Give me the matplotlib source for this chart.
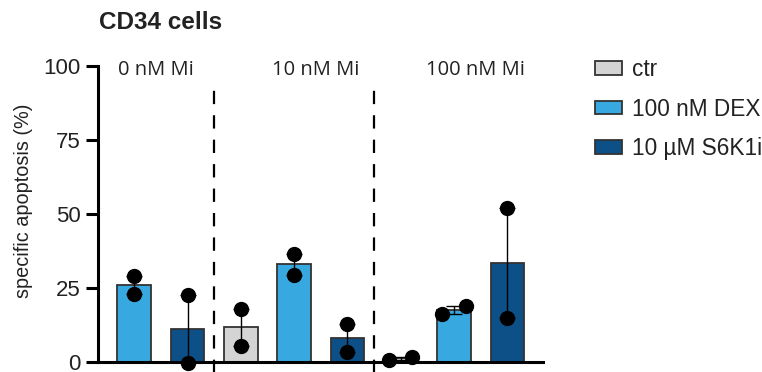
import numpy as np
import matplotlib
matplotlib.use("Agg")
import matplotlib.pyplot as plt
from matplotlib.patches import Patch

plt.rcParams['font.family'] = ['Liberation Sans', 'DejaVu Sans']

# data (two replicates per condition)
groups = ["0 nM Mi", "10 nM Mi", "100 nM Mi"]
treatments = ["ctr", "100 nM DEX", "10 µM S6K1i"]
colors = ["#d4d4d4", "#38a9e0", "#0d5088"]
rep1 = [np.nan, 29.0, 22.5, 18.0, 36.5, 13.0, 0.7, 16.2, 52.0]
rep2 = [np.nan, 23.0, -0.5, 5.5, 29.5, 3.3, 1.8, 19.0, 14.7]
jitter1 = [0, 0, 0, 0, 0, 0, -0.22, -0.22, 0]
jitter2 = [0, 0, 0, 0, 0, 0, 0.22, 0.22, 0]

rep1 = np.array(rep1)
rep2 = np.array(rep2)
means = (rep1 + rep2) / 2
x = np.arange(len(means))

fig = plt.figure(figsize=(7.62, 3.72), dpi=100)
ax = fig.add_axes([0.1286, 0.0269, 0.584, 0.7957])

bar_colors = [colors[i % 3] for i in range(len(x))]
for xi, m, c in zip(x, means, bar_colors):
    if np.isnan(m):
        continue
    ax.bar(xi, m, width=0.63, color=c, edgecolor="#333333", linewidth=1.3, zorder=2)
    lo = min(rep1[xi], rep2[xi])
    hi = max(rep1[xi], rep2[xi])
    ax.vlines(xi, lo, hi, color="black", linewidth=1.0, zorder=3, clip_on=False)
    ax.hlines([lo, hi], xi - 0.15, xi + 0.15, color="black", linewidth=1.0, zorder=3, clip_on=False)
    ax.plot([xi + jitter1[xi], xi + jitter2[xi]], [rep1[xi], rep2[xi]], "o",
            color="black", markersize=10, zorder=4, clip_on=False, linestyle="none")

# group separators
for sep in [2.5, 5.5]:
    ax.plot([sep, sep], [-4, 93.5], color="black", linewidth=1.6,
            dashes=(6, 5), clip_on=False, zorder=1)

for i, g in enumerate(groups):
    ax.text(3 * i + 1.4, 98.6, g, ha="center", va="center", fontsize=14.5,
            family=["Open Sans", "DejaVu Sans"], color="#222222")

ax.set_xlim(0.32, 8.67)
ax.set_ylim(0, 100)
ax.set_yticks([0, 25, 50, 75, 100])
ax.set_xticks([])
ax.tick_params(axis="y", length=8.5, width=2.2, labelsize=16, pad=4, colors="black",
               labelcolor="#222222")
for s in ["top", "right"]:
    ax.spines[s].set_visible(False)
ax.spines["left"].set_linewidth(2.2)
ax.spines["bottom"].set_linewidth(2.2)
ax.set_ylabel("specific apoptosis (%)", fontsize=14.3, color="#222222")
ax.yaxis.set_label_coords(-0.146, 0.544)

fig.text(0.2107, 0.94, "CD34 cells", ha="center", va="center",
         fontsize=17.5, fontweight="bold", color="#222222")

handles = [Patch(facecolor=c, edgecolor="#333333", linewidth=1.3) for c in colors]
leg = fig.legend(handles, treatments, loc="upper left", bbox_to_anchor=(0.781, 0.844),
                 frameon=False, fontsize=16.3, handlelength=1.2, handleheight=0.55,
                 labelspacing=0.73, handletextpad=0.45, borderpad=0, borderaxespad=0)
for t in leg.get_texts():
    t.set_color("#222222")

fig.savefig("out.png", dpi=100)
